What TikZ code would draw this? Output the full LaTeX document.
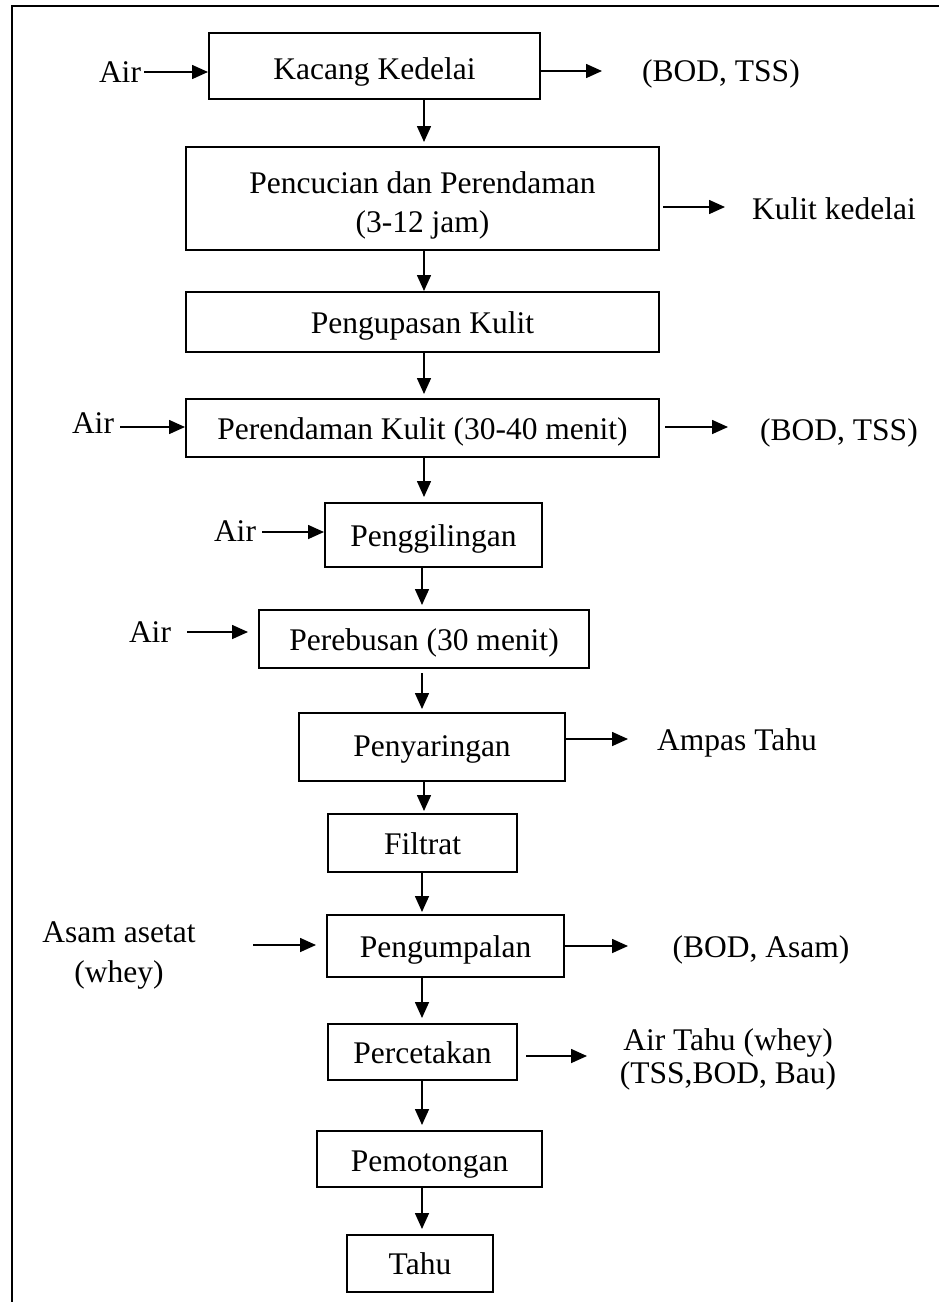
\documentclass[tikz,border=0pt]{standalone}
\usepackage{fontspec}
\setmainfont{Liberation Serif}
\usetikzlibrary{arrows.meta}
\newcommand\figfs{\fontsize{31.5}{39}\selectfont}
\begin{document}
\begin{tikzpicture}[x=1pt,y=-1pt,
  box/.style={draw, line width=2pt, inner sep=0pt, text height=22pt, text depth=0pt, font=\figfs},
  tbox/.style={draw, line width=2pt, inner sep=0pt, align=center, font=\figfs},
  lbl/.style={inner sep=0pt, font=\figfs},
  arr/.style={line width=1.6pt, -{Triangle[length=16pt,width=14pt]}}]
\useasboundingbox (0,0) rectangle (939,1302);
% outer frame
\draw[line width=2.6pt] (939,6) -- (12,6) -- (12,1302);
% main boxes
\node[box, text height=27pt, minimum width=331pt, minimum height=66pt] (kacang) at (374.5,66) {Kacang Kedelai};
\node[tbox, minimum width=473pt, minimum height=103pt] (cuci) at (422.5,198.5) {\rule{0pt}{35pt}Pencucian dan Perendaman\\(3-12 jam)};
\node[box, minimum width=473pt, minimum height=60pt] (kupas) at (422.5,322) {Pengupasan Kulit};
\node[box, minimum width=473pt, minimum height=58pt] (rendam) at (422.5,428) {Perendaman Kulit (30-40 menit)};
\node[box, minimum width=217pt, minimum height=64pt] (giling) at (433.5,535) {Penggilingan};
\node[box, minimum width=330pt, minimum height=58pt] (rebus) at (424,639) {Perebusan (30 menit)};
\node[box, text height=18pt, minimum width=266pt, minimum height=68pt] (saring) at (432,747) {Penyaringan};
\node[box, minimum width=189pt, minimum height=58pt] (filtrat) at (422.5,843) {Filtrat};
\node[box, minimum width=237pt, minimum height=62pt] (gumpal) at (445.5,946) {Pengumpalan};
\node[box, minimum width=189pt, minimum height=56pt] (cetak) at (422.5,1052) {Percetakan};
\node[box, text height=25pt, minimum width=225pt, minimum height=56pt] (potong) at (429.5,1159) {Pemotongan};
\node[box, minimum width=146pt, minimum height=57pt] (tahu) at (420,1263.5) {Tahu};
% vertical flow
\coordinate (axA) at (424,0);
\coordinate (axB) at (422,0);
\draw[arr, shorten >=4pt] (kacang.south -| axA) -- (cuci.north -| axA);
\draw[arr] (cuci.south -| axA) -- (kupas.north -| axA);
\draw[arr, shorten >=4pt] (kupas.south -| axA) -- (rendam.north -| axA);
\draw[arr, shorten >=5pt] (rendam.south -| axA) -- (giling.north -| axA);
\draw[arr, shorten >=4pt] (giling.south -| axB) -- (rebus.north -| axB);
\draw[arr, shorten <=4pt, shorten >=3pt] (rebus.south -| axB) -- (saring.north -| axB);
\draw[arr, shorten >=2pt] (saring.south -| axA) -- (filtrat.north -| axA);
\draw[arr, shorten >=2pt] (filtrat.south -| axB) -- (gumpal.north -| axB);
\draw[arr, shorten >=5pt] (gumpal.south -| axB) -- (cetak.north -| axB);
\draw[arr, shorten >=5pt] (cetak.south -| axB) -- (potong.north -| axB);
\draw[arr, shorten >=5pt] (potong.south -| axB) -- (tahu.north -| axB);
% inputs
\node[lbl, anchor=base] (air1) at (120,82) {Air};
\coordinate (a1) at (144,72);
\draw[arr] (a1) -- (kacang.west |- a1);
\node[lbl, anchor=base] (air2) at (93,433) {Air};
\coordinate (a2) at (120,427);
\draw[arr] (a2) -- (rendam.west |- a2);
\node[lbl, anchor=base] (air3) at (235,541) {Air};
\coordinate (a3) at (262,532);
\draw[arr] (a3) -- (giling.west |- a3);
\node[lbl, anchor=base] (air4) at (150,642) {Air};
\coordinate (a4) at (187,632);
\draw[arr, shorten >=10pt] (a4) -- (rebus.west |- a4);
\node[lbl, align=center, font=\fontsize{31.5}{40}\selectfont] (asam) at (119,955) {Asam asetat\\(whey)};
\coordinate (a5) at (253,945);
\draw[arr, shorten >=10pt] (a5) -- (gumpal.west |- a5);
% outputs
\coordinate (o1) at (602,71);
\draw[arr] (kacang.east |- o1) -- (o1);
\node[lbl, anchor=base] (bod1) at (721,81) {(BOD, TSS)};
\coordinate (o2) at (725,207);
\draw[arr, shorten <=3pt] (cuci.east |- o2) -- (o2);
\node[lbl, anchor=base] (kulit) at (834,219) {Kulit kedelai};
\coordinate (o3) at (728,427);
\draw[arr, shorten <=5pt] (rendam.east |- o3) -- (o3);
\node[lbl, anchor=base] (bod2) at (839,440) {(BOD, TSS)};
\coordinate (o4) at (628,739);
\draw[arr] (saring.east |- o4) -- (o4);
\node[lbl, anchor=base] (ampas) at (737,750) {Ampas Tahu};
\coordinate (o5) at (628,946);
\draw[arr] (gumpal.east |- o5) -- (o5);
\node[lbl, anchor=base] (bod3) at (761,957) {(BOD, Asam)};
\coordinate (o6) at (587,1056);
\draw[arr, shorten <=8pt] (cetak.east |- o6) -- (o6);
\node[lbl, align=center, font=\fontsize{31.5}{33}\selectfont] (whey) at (728,1059.5) {Air Tahu (whey)\\(TSS,BOD, Bau)};
\end{tikzpicture}
\end{document}
